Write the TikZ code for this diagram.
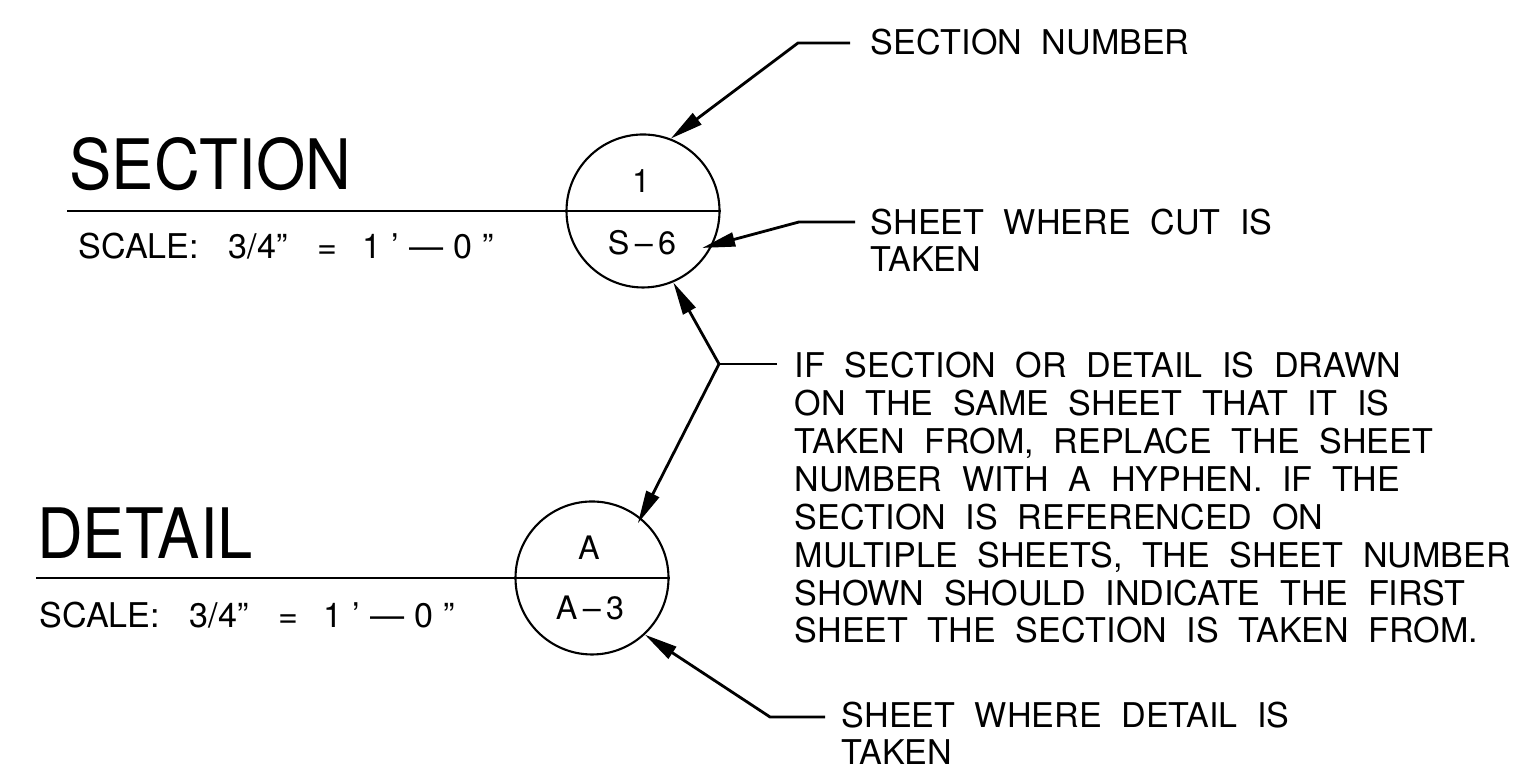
\documentclass[tikz,border=0pt]{standalone}
\usepackage{fontspec}
\setmainfont{TeX Gyre Heros}[WordSpace=2.07]
\newfontfamily\titlefont{TeX Gyre Heros}[FakeStretch=0.91]
\usetikzlibrary{arrows.meta,calc}
\newcommand{\scaletext}{SCALE:\hspace{0.3cm}3/4”\hspace{0.3cm}=\hspace{0.25cm}1\hspace{0.1cm}’\hspace{0.1cm}—\hspace{0.1cm}0\hspace{0.1cm}”}

\begin{document}
\begin{tikzpicture}[every node/.style={inner sep=0pt, font=\fontsize{9.7}{10.8}\selectfont},
    title/.style={anchor=base west, font=\titlefont\fontsize{19.8}{22}\selectfont},
    scaletxt/.style={anchor=base west},
    bubble/.style={circle, draw, semithick, minimum size=1.53cm},
    bubtxt/.style={anchor=base, font=\fontsize{9.2}{10}\selectfont},
    note/.style={anchor=base west, align=left},
    ldr/.style={thick, -{Triangle[length=3.3mm,width=1.4mm]}}]
    \useasboundingbox (0,0) rectangle (15.36,7.69);
    \node[bubble] (c1) at (6.43,5.58) {};
    \node[bubble] (c2) at (5.92,1.91) {};
    \coordinate (secl) at (0.67,5.58);
    \coordinate (detl) at (0.36,1.91);
    \draw[semithick] (secl) -- (c1.east);
    \draw[semithick] (detl) -- (c2.east);
    \node[title] (sec) at (0.69,5.79) {SECTION};
    \node[scaletxt] (secsc) at (0.78,5.10) {\scaletext};
    \node[title] (det) at (0.365,2.10) {DETAIL};
    \node[scaletxt] (detsc) at (0.39,1.41) {\scaletext};
    \node[bubtxt] (num1) at (6.41,5.76) {1};
    \node[bubtxt] (sht1) at (6.42,5.14) {S\,--\,6};
    \node[bubtxt] (numA) at (5.89,2.09) {A};
    \node[bubtxt] (shtA) at (5.90,1.49) {A\,--\,3};
    \node[note] (tnum) at (8.70,7.14) {SECTION NUMBER};
    \node[note] (tcut) at (8.70,4.97) {SHEET WHERE CUT IS\\TAKEN};
    \node[note] (tsame) at (7.94,1.26) {IF SECTION OR DETAIL IS DRAWN\\ON THE SAME SHEET THAT IT IS\\TAKEN FROM, REPLACE THE SHEET\\NUMBER WITH A HYPHEN. IF THE\\SECTION IS REFERENCED ON\\MULTIPLE SHEETS, THE SHEET NUMBER\\SHOWN SHOULD INDICATE THE FIRST\\SHEET THE SECTION IS TAKEN FROM.};
    \node[note] (tdet) at (8.41,0.04) {SHEET WHERE DETAIL IS\\TAKEN};
    \draw[ldr] ([xshift=-2mm,yshift=1.2mm]tnum.base west) -- ++(-0.52,0) -- (c1.69);
    \draw[ldr] ([xshift=-1.5mm,yshift=5mm]tcut.base west) -- ++(-0.56,0) -- ($(c1)!0.9!(c1.-32)$);
    \draw[thick] ([xshift=-1.7mm,yshift=27.9mm]tsame.base west) -- ++(-0.58,0) coordinate (jn);
    \draw[ldr] (jn) -- (c1.-67);
    \draw[ldr] (jn) -- ($(c2)!0.92!(c2.50)$);
    \draw[ldr] ([xshift=-1.6mm,yshift=4.8mm]tdet.base west) -- ++(-0.55,0) -- (c2.-47);
\end{tikzpicture}
\end{document}
